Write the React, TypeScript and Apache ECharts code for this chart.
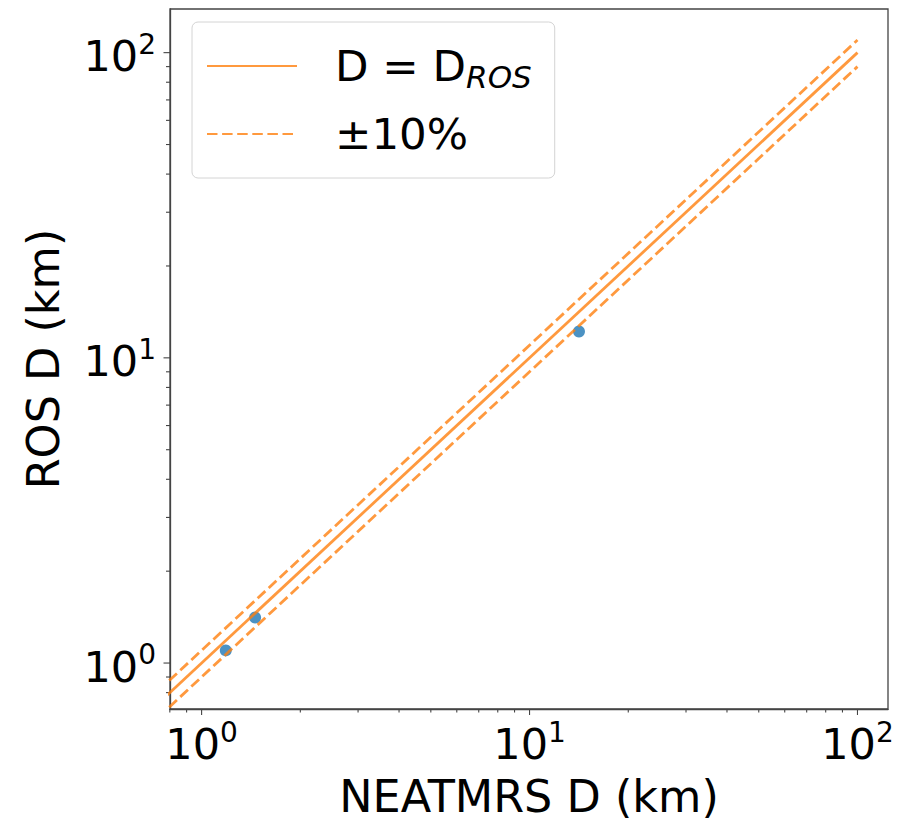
import React, { useEffect, useRef } from "react";
import * as echarts from "echarts";

// ---- data ----
const X_MIN = 0.801;
const X_MAX = 123.9;
const Y_MIN = 0.707;
const Y_MAX = 139;

const neatmrsD = [1.185, 1.456, 14.15];
const rosD = [1.1, 1.41, 12.2];

const lineD = [0.5, 100]; // D = D_ROS reference line end points
const plusFactor = 1.1;
const minusFactor = 0.9;

const majorTicks = [1, 10, 100];
const minorTicksX = [0.8, 0.9, 2, 3, 4, 5, 6, 7, 8, 9, 20, 30, 40, 50, 60, 70, 80, 90];
const minorTicksY = [0.8, 0.9, 2, 3, 4, 5, 6, 7, 8, 9, 20, 30, 40, 50, 60, 70, 80, 90];

const NAME_EXACT = "D = D_ROS";
const NAME_BAND = "±10%";

const FONT = "DejaVu Sans";
const ORANGE = "#ff7f0e";
const BLUE = "#1f77b4";
const SPINE = "#444";

function isPow10(v: number) {
  const l = Math.log10(v);
  return Math.abs(l - Math.round(l)) < 1e-6;
}

export default function App() {
  const ref = useRef<HTMLDivElement>(null);
  useEffect(() => {
    if (!ref.current) return;
    const chart = echarts.init(ref.current, undefined, { renderer: "svg" });

    const tickLabel = {
      fontFamily: FONT,
      color: "#000",
      formatter: (v: number) =>
        isPow10(v) ? `{b|10}{s|${Math.round(Math.log10(v))}}` : "",
      rich: {
        b: { fontSize: 43, lineHeight: 52, fontFamily: FONT, color: "#000" },
        s: { fontSize: 28, lineHeight: 28, verticalAlign: "top", fontFamily: FONT, color: "#000" },
      },
    };

    const xTickData = [
      ...majorTicks.map((v) => [v, 1, 1]),
      ...minorTicksX.map((v) => [v, 1, 0]),
    ];
    const yTickData = [
      ...majorTicks.map((v) => [1, v, 1]),
      ...minorTicksY.map((v) => [1, v, 0]),
    ];

    const dash = [10.5, 4.6];

    chart.setOption({
      animation: false,
      grid: {
        left: 170,
        right: 23,
        top: 9,
        bottom: 113,
        show: true,
        borderColor: SPINE,
        borderWidth: 1.3,
        backgroundColor: "transparent",
      },
      legend: {
        left: 192,
        top: 22,
        orient: "vertical",
        data: [NAME_EXACT, NAME_BAND],
        itemWidth: 90,
        itemHeight: 14,
        itemGap: 16,
        padding: [18, 23, 18, 14],
        backgroundColor: "#fff",
        borderColor: "#d4d4d4",
        borderWidth: 1,
        borderRadius: 6,
        itemStyle: { opacity: 0 },
        formatter: (name: string) => (name === NAME_EXACT ? "D = D{sub|ROS}" : name),
        textStyle: {
          fontFamily: FONT,
          fontSize: 43.5,
          lineHeight: 52,
          color: "#000",
          padding: [0, 0, 0, 33],
          rich: {
            sub: {
              fontFamily: FONT,
              fontSize: 31,
              fontStyle: "italic",
              lineHeight: 29,
              verticalAlign: "bottom",
              color: "#000",
            },
          },
        },
      },
      xAxis: {
        type: "log",
        logBase: 10,
        min: X_MIN,
        max: X_MAX,
        name: "NEATMRS D (km)",
        nameLocation: "middle",
        nameGap: 65,
        nameTextStyle: { fontFamily: FONT, fontSize: 44.5, color: "#000" },
        axisLine: { show: true, onZero: false, lineStyle: { color: SPINE, width: 1.3 } },
        axisTick: { show: false },
        splitLine: { show: false },
        minorTick: { show: false },
        axisLabel: { ...tickLabel, margin: 9, showMinLabel: false, showMaxLabel: false },
      },
      yAxis: {
        type: "log",
        logBase: 10,
        min: Y_MIN,
        max: Y_MAX,
        name: "ROS D (km)",
        nameLocation: "middle",
        nameGap: 104,
        nameTextStyle: { fontFamily: FONT, fontSize: 44.5, color: "#000" },
        axisLine: { show: true, onZero: false, lineStyle: { color: SPINE, width: 1.3 } },
        axisTick: { show: false },
        splitLine: { show: false },
        minorTick: { show: false },
        axisLabel: { ...tickLabel, margin: 14, padding: [7, 0, 0, 0], showMinLabel: false, showMaxLabel: false },
      },
      series: [
        {
          type: "scatter",
          data: neatmrsD.map((x, i) => [x, rosD[i]]),
          symbol: "circle",
          symbolSize: 12,
          itemStyle: { color: BLUE },
          z: 2,
          silent: true,
        },
        {
          name: NAME_EXACT,
          type: "line",
          data: lineD.map((d) => [d, d]),
          symbol: "none",
          lineStyle: { color: ORANGE, width: 2.8, opacity: 0.8 },
          itemStyle: { color: ORANGE, opacity: 0.8 },
          z: 3,
          silent: true,
        },
        {
          name: NAME_BAND,
          type: "line",
          data: lineD.map((d) => [d, d * plusFactor]),
          symbol: "none",
          lineStyle: { color: ORANGE, width: 2.8, type: dash, opacity: 0.8 },
          itemStyle: { color: ORANGE, opacity: 0.8 },
          z: 3,
          silent: true,
        },
        {
          name: NAME_BAND,
          type: "line",
          data: lineD.map((d) => [d, d * minusFactor]),
          symbol: "none",
          lineStyle: { color: ORANGE, width: 2.8, type: dash, opacity: 0.8 },
          itemStyle: { color: ORANGE, opacity: 0.8 },
          z: 3,
          silent: true,
        },
        {
          type: "custom",
          clip: false,
          silent: true,
          encode: { x: 0, y: 1 },
          data: xTickData,
          renderItem: (params: any, api: any) => {
            const v = api.value(0);
            const major = api.value(2);
            const cs = params.coordSys;
            const x = api.coord([v, 1])[0];
            const y0 = cs.y + cs.height;
            const len = major ? 6 : 3.5;
            return {
              type: "line",
              shape: { x1: x, y1: y0, x2: x, y2: y0 + len },
              style: { stroke: SPINE, lineWidth: 1.1 },
            };
          },
        },
        {
          type: "custom",
          clip: false,
          silent: true,
          encode: { x: 0, y: 1 },
          data: yTickData,
          renderItem: (params: any, api: any) => {
            const v = api.value(1);
            const major = api.value(2);
            const cs = params.coordSys;
            const y = api.coord([1, v])[1];
            const x0 = cs.x;
            const len = major ? 6.5 : 4;
            return {
              type: "line",
              shape: { x1: x0, y1: y, x2: x0 - len, y2: y },
              style: { stroke: SPINE, lineWidth: 1.1 },
            };
          },
        },
      ],
    });
    return () => chart.dispose();
  }, []);
  return (
    <div
      ref={ref}
      style={{ position: "fixed", left: 0, top: 0, width: 911, height: 824, background: "#fff" }}
    />
  );
}
